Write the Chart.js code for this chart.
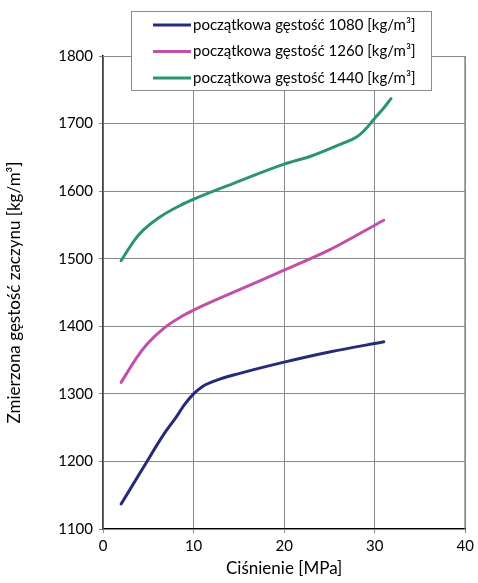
<!DOCTYPE html>
<html>
<head>
<meta charset="utf-8">
<script src="https://cdn.jsdelivr.net/npm/chart.js@4"></script>
<style>
  html, body { margin: 0; padding: 0; background: #fff; }
  #wrap { width: 478px; height: 583px; position: relative; }
</style>
</head>
<body>
<div id="wrap"><canvas id="chart" width="478" height="583"></canvas></div>
<script>
// dane
const seriesLabels = [
  'początkowa gęstość 1080 [kg/m³]',
  'początkowa gęstość 1260 [kg/m³]',
  'początkowa gęstość 1440 [kg/m³]'
];
const seriesColors = ['#272a7a', '#c050a8', '#2e956a'];

const p1080 = [2, 4.5, 6.7, 8, 9, 10, 11, 12.5, 15, 20, 25, 31];
const d1080 = [1137, 1192, 1240, 1264, 1284, 1300, 1311, 1320, 1330, 1347, 1362, 1377];

const p1260 = [2, 3.8, 4.9, 6.7, 8.6, 10, 14.5, 20, 25, 31];
const d1260 = [1317, 1355, 1374, 1397, 1414, 1424, 1451, 1483, 1513, 1557];

const p1440 = [2, 3.5, 4.5, 6.2, 8.4, 10, 14.5, 20, 23, 26.5, 28, 29, 30, 31, 31.8];
const d1440 = [1497, 1528, 1543, 1561, 1578, 1588, 1612, 1640, 1652, 1671, 1680, 1692, 1708, 1723, 1737];

const xTitle = 'Ciśnienie [MPa]';
const yTitle = 'Zmierzona gęstość zaczynu [kg/m³]';

const FONT = 'Lato, "Open Sans", sans-serif';

function toPoints(xs, ys) {
  return xs.map((x, i) => ({ x: x, y: ys[i] }));
}

const allX = [p1080, p1260, p1440];
const allY = [d1080, d1260, d1440];

// ramka obszaru wykresu (szara) i legenda w ramce
const framePlugin = {
  id: 'frame',
  beforeDatasetsDraw(chart) {
    const { ctx, chartArea: a } = chart;
    ctx.save();
    ctx.strokeStyle = '#888';
    ctx.lineWidth = 1;
    ctx.strokeRect(a.left, a.top + 0.5, a.right - a.left - 0.5, a.bottom - a.top);
    ctx.restore();
  },
  afterDraw(chart) {
    const ctx = chart.ctx;
    ctx.save();
    ctx.fillStyle = '#fff';
    ctx.fillRect(132, 12, 300, 79);
    ctx.strokeStyle = '#8c8c8c';
    ctx.lineWidth = 1;
    ctx.strokeRect(131.5, 11.5, 300, 79);
    ctx.font = '15px ' + FONT;
    ctx.textBaseline = 'middle';
    const rows = [25, 51.5, 78];
    seriesLabels.forEach((lbl, i) => {
      ctx.strokeStyle = seriesColors[i];
      ctx.lineWidth = 3;
      ctx.beginPath();
      ctx.moveTo(153, rows[i]);
      ctx.lineTo(191, rows[i]);
      ctx.stroke();
      ctx.fillStyle = '#000';
      ctx.fillText(lbl, 193, rows[i]);
    });
    ctx.restore();
  }
};

new Chart(document.getElementById('chart'), {
  type: 'scatter',
  data: {
    datasets: seriesLabels.map((lbl, i) => ({
      label: lbl,
      data: toPoints(allX[i], allY[i]),
      showLine: true,
      borderColor: seriesColors[i],
      backgroundColor: seriesColors[i],
      borderWidth: 3,
      pointRadius: 0,
      cubicInterpolationMode: 'monotone',
      borderCapStyle: 'round',
      borderJoinStyle: 'round'
    }))
  },
  options: {
    responsive: false,
    animation: false,
    layout: { padding: { left: 0, right: 8, top: 56, bottom: 0 } },
    plugins: {
      legend: { display: false },
      tooltip: { enabled: false }
    },
    scales: {
      x: {
        type: 'linear',
        min: 0,
        max: 40,
        ticks: { stepSize: 10, color: '#000', padding: 4, font: { family: FONT, size: 15 } },
        grid: { color: '#888', lineWidth: 1, tickLength: 4, drawOnChartArea: true },
        border: { color: '#000', width: 1.5 },
        title: { display: true, text: xTitle, color: '#000', padding: { top: 1 }, font: { family: FONT, size: 17 } },
        afterFit(scale) { scale.height = 54; }
      },
      y: {
        min: 1100,
        max: 1800,
        ticks: {
          stepSize: 100, color: '#000', padding: 6, font: { family: FONT, size: 15 },
          callback: v => String(v)
        },
        grid: { color: '#888', lineWidth: 1, tickLength: 4 },
        border: { color: '#000', width: 1.5 },
        title: { display: true, text: yTitle, color: '#000', padding: { bottom: 4 }, font: { family: FONT, size: 17 } },
        afterFit(scale) { scale.width = 103; }
      }
    }
  },
  plugins: [framePlugin]
});
</script>
</body>
</html>
